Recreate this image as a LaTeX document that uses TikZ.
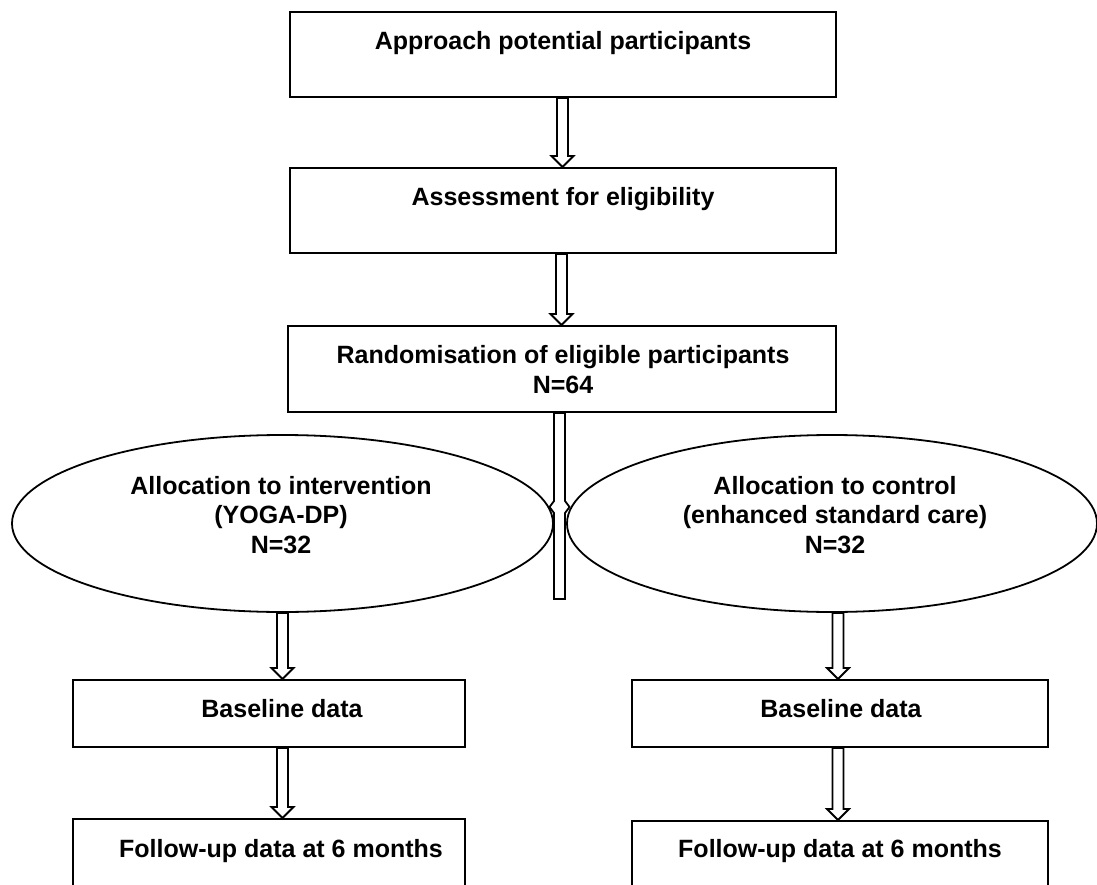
\documentclass[tikz,border=0pt]{standalone}
\usepackage{fontspec}
\setmainfont{Liberation Sans}
\usetikzlibrary{calc,shapes.geometric}
\tikzset{
  boxnode/.style={draw=black,line width=2pt,rectangle,inner sep=0pt,fill=white},
  ellnode/.style={draw=black,line width=1.8pt,ellipse,inner sep=0pt,fill=white},
  txt/.style={anchor=base,inner sep=0pt,font=\fontsize{25}{30}\selectfont\bfseries},
  blockarr/.style={draw=black,line width=1.8pt,fill=white,line join=miter}
}
\newcommand{\barrow}[2]{%
  \draw[blockarr] ($#1+(-5.5,0)$) -- ($#2+(-5.5,-11)$) -- ($#2+(-11,-11)$) -- #2 -- ($#2+(11,-11)$) -- ($#2+(5.5,-11)$) -- ($#1+(5.5,0)$) -- cycle;}
\begin{document}
\begin{tikzpicture}[x=1pt,y=-1pt]
\useasboundingbox (0,0) rectangle (1097,885);
\clip (0,0) rectangle (1097,885);
% boxes
\node[boxnode,minimum width=546pt,minimum height=85pt] (b1) at (563,54.5) {};
\node[boxnode,minimum width=546pt,minimum height=85pt] (b2) at (563,210.5) {};
\node[boxnode,minimum width=548pt,minimum height=86pt] (b3) at (562,369) {};
\node[ellnode,minimum width=541pt,minimum height=177pt] (elL) at (282.5,523.5) {};
\node[ellnode,minimum width=530pt,minimum height=177pt] (elR) at (832,523.5) {};
\node[boxnode,minimum width=392pt,minimum height=67pt] (bl1) at (269,713.5) {};
\node[boxnode,minimum width=416pt,minimum height=67pt] (bl2) at (840,713.5) {};
\node[boxnode,minimum width=392pt,minimum height=120pt] (fu1) at (269,879) {};
\node[boxnode,minimum width=416pt,minimum height=120pt] (fu2) at (840,881) {};
% texts
\node[txt] (t1) at (563,50) {Approach potential participants};
\node[txt] (t2) at (563,206) {Assessment for eligibility};
\node[txt] (t3a) at (563,363) {Randomisation of eligible participants};
\node[txt] (t3b) at (563,393) {N=64};
\node[txt] (tl1) at (281,494) {Allocation to intervention};
\node[txt] (tl2) at (281,523) {(YOGA-DP)};
\node[txt] (tl3) at (281,553) {N=32};
\node[txt] (tr1) at (835,494) {Allocation to control};
\node[txt] (tr2) at (835,523) {(enhanced standard care)};
\node[txt] (tr3) at (835,553) {N=32};
\node[txt] (tb1) at (282,717) {Baseline data};
\node[txt] (tb2) at (841,717) {Baseline data};
\node[txt] (tf1) at (281,857) {Follow-up data at 6 months};
\node[txt] (tf2) at (840,857) {Follow-up data at 6 months};
% arrows
\coordinate (a1s) at ($(b1.south)+(-0.5,0)$);
\coordinate (a1e) at ($(b2.north)+(-0.5,0)$);
\barrow{(a1s)}{(a1e)}
\coordinate (a2s) at ($(b2.south)+(-1.5,0)$);
\coordinate (a2e) at ($(b3.north)+(-0.5,0)$);
\barrow{(a2s)}{(a2e)}
\coordinate (a3s) at (elL.south);
\coordinate (a3e) at (elL.south |- bl1.north);
\barrow{(a3s)}{(a3e)}
\coordinate (a4s) at ($(elR.south)+(6,0)$);
\coordinate (a4e) at ($(elR.south |- bl2.north)+(6,0)$);
\barrow{(a4s)}{(a4e)}
\coordinate (a5s) at ($(bl1.south -| a3s)$);
\coordinate (a5e) at ($(fu1.north -| a3s)$);
\barrow{(a5s)}{(a5e)}
\coordinate (a6s) at ($(bl2.south -| a4s)$);
\coordinate (a6e) at ($(fu2.north -| a4s)$);
\barrow{(a6s)}{(a6e)}
% middle stem
\coordinate (ms) at ($(b3.south)+(-2.5,0)$);
\coordinate (me) at ($(ms)+(0,186)$);
\draw[blockarr] ($(ms)+(-5.5,0)$) -- ($(ms)+(-5.5,88)$) -- ($(ms)+(-10,94)$) -- ($(ms)+(-5.5,100)$) -- ($(me)+(-5.5,0)$) -- ($(me)+(5.5,0)$) -- ($(ms)+(5.5,100)$) -- ($(ms)+(10,94)$) -- ($(ms)+(5.5,88)$) -- ($(ms)+(5.5,0)$) -- cycle;
\end{tikzpicture}
\end{document}
